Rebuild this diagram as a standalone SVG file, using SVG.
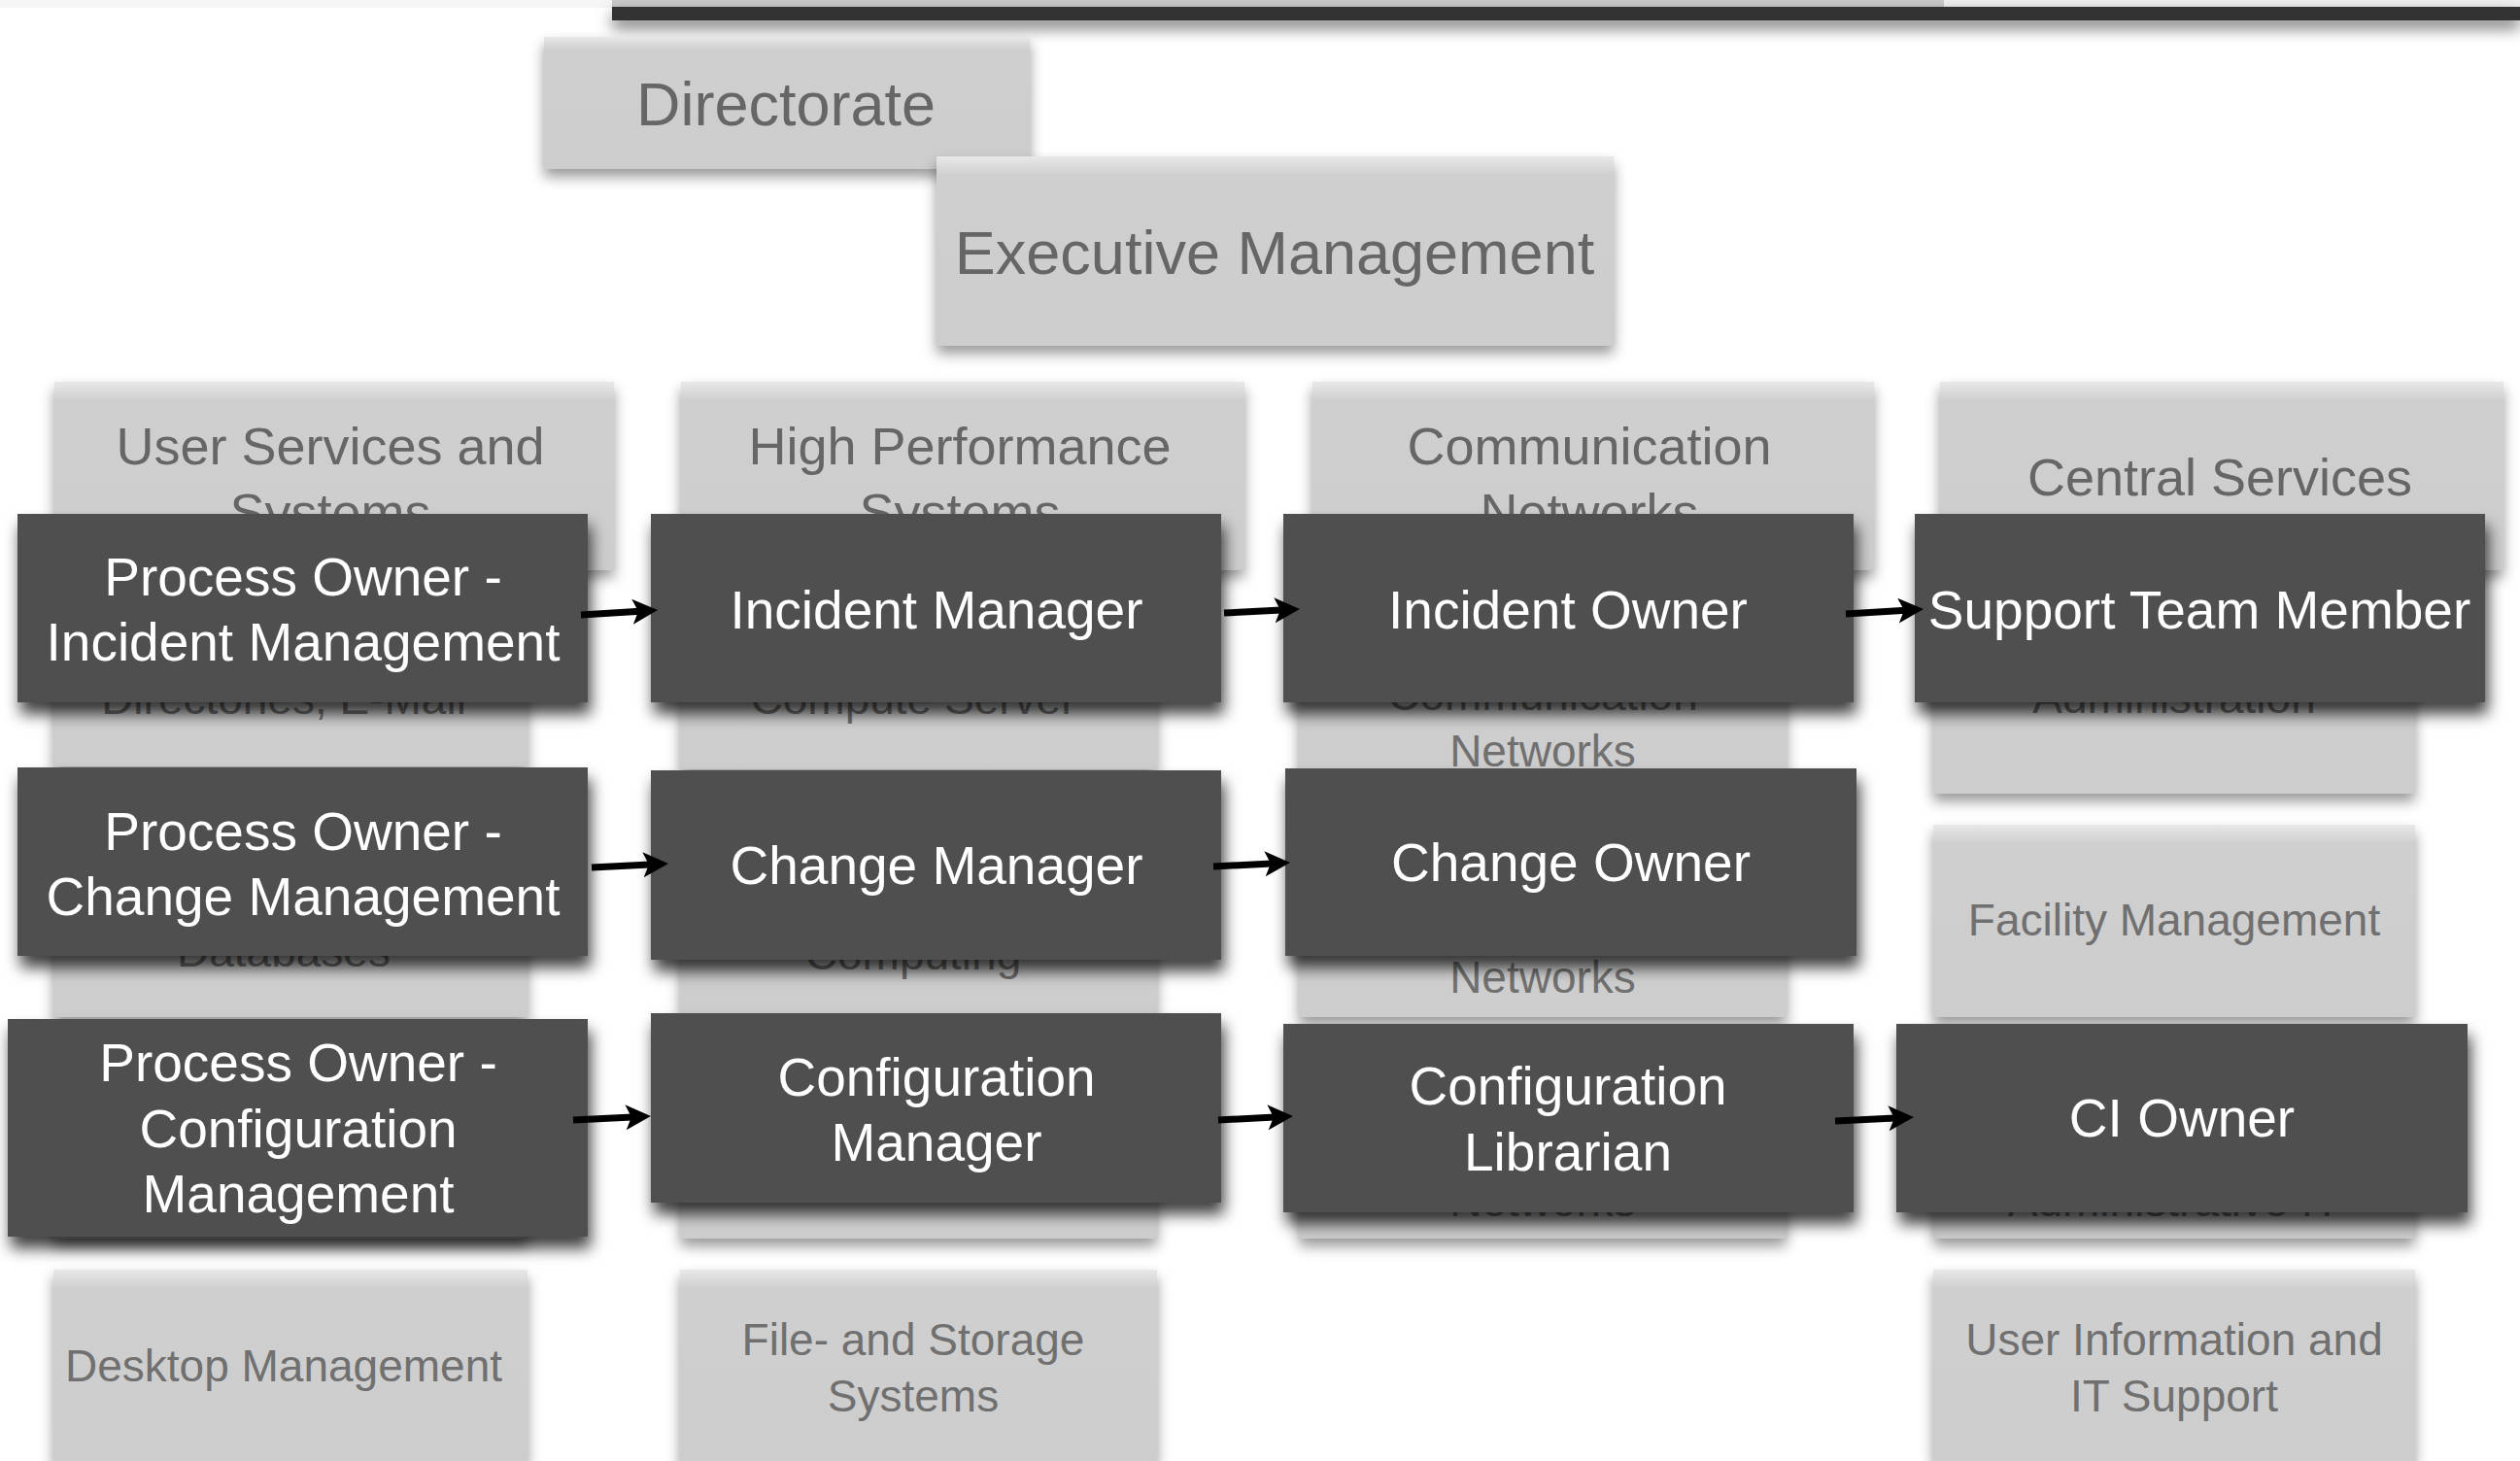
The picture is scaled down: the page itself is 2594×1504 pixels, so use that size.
<svg xmlns="http://www.w3.org/2000/svg" width="2594" height="1504" viewBox="0 0 2594 1504">
  <defs>
    <style>
      text { font-family: "Liberation Sans", Arial, Helvetica, sans-serif; text-anchor: middle; }
      .box { fill: url(#boxFill); filter: url(#shLight); }
      .dark { fill: #505050; filter: url(#shDark); }
      .t-top { font-size: 63px; fill: #666666; }
      .t-hdr { font-size: 54px; fill: #666666; }
      .t-sub { font-size: 46px; fill: #707070; }
      .t-dk { font-size: 55px; fill: #ffffff; }
      .conn { fill: none; stroke: #000000; stroke-width: 7; marker-end: url(#head); }
    </style>
    <linearGradient id="boxFill" x1="0" y1="0" x2="0" y2="1">
      <stop offset="0" stop-color="#e8e8e8"/>
      <stop offset="0.1" stop-color="#cfcfcf"/>
      <stop offset="1" stop-color="#cdcdcd"/>
    </linearGradient>
    <filter id="shLight" x="-10%" y="-15%" width="120%" height="140%">
      <feDropShadow dx="0" dy="8" stdDeviation="7" flood-color="#000" flood-opacity="0.4"/>
    </filter>
    <filter id="shDark" x="-10%" y="-15%" width="125%" height="145%">
      <feDropShadow dx="3" dy="12" stdDeviation="8" flood-color="#000" flood-opacity="0.75"/>
    </filter>
    <filter id="shBar" x="-5%" y="-100%" width="110%" height="500%">
      <feDropShadow dx="0" dy="8" stdDeviation="8" flood-color="#000" flood-opacity="0.55"/>
    </filter>
    <marker id="head" viewBox="0 0 26 26" markerWidth="26" markerHeight="26" refX="12" refY="13" orient="auto" markerUnits="userSpaceOnUse">
      <path d="M0,0 L26,13 L0,26 L6,13 Z" fill="#000"/>
    </marker>
  </defs>

  <rect width="2594" height="1504" fill="#ffffff"/>

  <!-- top strip and heavy rule -->
  <g id="top-rule">
    <rect x="0" y="0" width="630" height="8" fill="#f6f6f6"/>
    <rect x="630" y="-20" width="1371" height="27" fill="#c9c9c9"/>
    <rect x="2001" y="0" width="593" height="7" fill="#efefef"/>
    <rect x="630" y="7" width="1964" height="14" fill="#333333" filter="url(#shBar)"/>
  </g>

  <!-- column headers -->
  <g id="hdr-user-services">
    <rect class="box" x="56" y="393" width="576" height="194"/>
    <text class="t-hdr" x="340" y="478">User Services and</text>
    <text class="t-hdr" x="340" y="546">Systems</text>
  </g>
  <g id="hdr-high-performance">
    <rect class="box" x="701" y="393" width="580" height="194"/>
    <text class="t-hdr" x="988" y="478">High Performance</text>
    <text class="t-hdr" x="988" y="546">Systems</text>
  </g>
  <g id="hdr-communication">
    <rect class="box" x="1351" y="393" width="578" height="194"/>
    <text class="t-hdr" x="1636" y="478">Communication</text>
    <text class="t-hdr" x="1636" y="546">Networks</text>
  </g>
  <g id="hdr-central-services">
    <rect class="box" x="1997" y="393" width="580" height="194"/>
    <text class="t-hdr" x="2285" y="510">Central Services</text>
  </g>

  <!-- department boxes, row 1 -->
  <g id="dept-directories">
    <rect class="box" x="55" y="591" width="488" height="198"/>
    <text class="t-sub" x="292" y="735">Directories, E-Mail</text>
  </g>
  <g id="dept-compute-server">
    <rect class="box" x="700" y="594" width="491" height="198"/>
    <text class="t-sub" x="940" y="735">Compute Server</text>
  </g>
  <g id="dept-comm-networks-1">
    <rect class="box" x="1337" y="619" width="502" height="198"/>
    <text class="t-sub" x="1588" y="731">Communication</text>
    <text class="t-sub" x="1588" y="789">Networks</text>
  </g>
  <g id="dept-administration">
    <rect class="box" x="1990" y="619" width="496" height="198"/>
    <text class="t-sub" x="2238" y="734">Administration</text>
  </g>

  <!-- department boxes, row 2 -->
  <g id="dept-databases">
    <rect class="box" x="55" y="849" width="488" height="198"/>
    <text class="t-sub" x="292" y="995">Databases</text>
  </g>
  <g id="dept-computing">
    <rect class="box" x="700" y="845" width="491" height="198"/>
    <text class="t-sub" x="940" y="998">Computing</text>
  </g>
  <g id="dept-comm-networks-2">
    <rect class="box" x="1337" y="849" width="502" height="198"/>
    <text class="t-sub" x="1588" y="1022">Networks</text>
  </g>
  <g id="dept-facility">
    <rect class="box" x="1990" y="849" width="496" height="198"/>
    <text class="t-sub" x="2238" y="963">Facility Management</text>
  </g>

  <!-- department boxes, row 3 -->
  <g id="dept-user-3">
    <rect class="box" x="55" y="1077" width="488" height="198"/>
  </g>
  <g id="dept-hps-3">
    <rect class="box" x="700" y="1077" width="491" height="198"/>
  </g>
  <g id="dept-comm-networks-3">
    <rect class="box" x="1337" y="1077" width="502" height="198"/>
    <text class="t-sub" x="1588" y="1252">Networks</text>
  </g>
  <g id="dept-admin-it">
    <rect class="box" x="1990" y="1077" width="496" height="198"/>
    <text class="t-sub" x="2238" y="1252">Administrative IT</text>
  </g>

  <!-- department boxes, row 4 -->
  <g id="dept-desktop">
    <rect class="box" x="55" y="1307" width="488" height="198"/>
    <text class="t-sub" x="292" y="1422">Desktop Management</text>
  </g>
  <g id="dept-file-storage">
    <rect class="box" x="700" y="1307" width="491" height="198"/>
    <text class="t-sub" x="940" y="1395">File- and Storage</text>
    <text class="t-sub" x="940" y="1453">Systems</text>
  </g>
  <g id="dept-user-info">
    <rect class="box" x="1990" y="1307" width="496" height="198"/>
    <text class="t-sub" x="2238" y="1395">User Information and</text>
    <text class="t-sub" x="2238" y="1453">IT Support</text>
  </g>

  <!-- management boxes -->
  <g id="directorate">
    <rect class="box" x="560" y="38" width="500" height="136"/>
    <text class="t-top" x="809" y="129">Directorate</text>
  </g>
  <g id="executive-management">
    <rect class="box" x="964" y="161" width="697" height="195"/>
    <text class="t-top" x="1312" y="282">Executive Management</text>
  </g>

  <!-- role boxes: incident row -->
  <g id="po-incident">
    <rect class="dark" x="18" y="529" width="587" height="194"/>
    <text class="t-dk" x="312" y="613">Process Owner -</text>
    <text class="t-dk" x="312" y="680">Incident Management</text>
  </g>
  <g id="incident-manager">
    <rect class="dark" x="670" y="529" width="587" height="194"/>
    <text class="t-dk" x="964" y="647">Incident Manager</text>
  </g>
  <g id="incident-owner">
    <rect class="dark" x="1321" y="529" width="587" height="194"/>
    <text class="t-dk" x="1614" y="647">Incident Owner</text>
  </g>
  <g id="support-team-member">
    <rect class="dark" x="1971" y="529" width="587" height="194"/>
    <text class="t-dk" x="2264" y="647">Support Team Member</text>
  </g>

  <!-- role boxes: change row -->
  <g id="po-change">
    <rect class="dark" x="18" y="790" width="587" height="194"/>
    <text class="t-dk" x="312" y="875">Process Owner -</text>
    <text class="t-dk" x="312" y="942">Change Management</text>
  </g>
  <g id="change-manager">
    <rect class="dark" x="670" y="793" width="587" height="195"/>
    <text class="t-dk" x="964" y="910">Change Manager</text>
  </g>
  <g id="change-owner">
    <rect class="dark" x="1323" y="791" width="588" height="193"/>
    <text class="t-dk" x="1617" y="907">Change Owner</text>
  </g>

  <!-- role boxes: configuration row -->
  <g id="po-configuration">
    <rect class="dark" x="8" y="1049" width="597" height="224"/>
    <text class="t-dk" x="307" y="1113">Process Owner -</text>
    <text class="t-dk" x="307" y="1181">Configuration</text>
    <text class="t-dk" x="307" y="1248">Management</text>
  </g>
  <g id="configuration-manager">
    <rect class="dark" x="670" y="1043" width="587" height="195"/>
    <text class="t-dk" x="964" y="1128">Configuration</text>
    <text class="t-dk" x="964" y="1195">Manager</text>
  </g>
  <g id="configuration-librarian">
    <rect class="dark" x="1321" y="1054" width="587" height="194"/>
    <text class="t-dk" x="1614" y="1137">Configuration</text>
    <text class="t-dk" x="1614" y="1205">Librarian</text>
  </g>
  <g id="ci-owner">
    <rect class="dark" x="1952" y="1054" width="588" height="194"/>
    <text class="t-dk" x="2246" y="1170">CI Owner</text>
  </g>

  <!-- connectors -->
  <g id="connectors">
    <path class="conn" d="M598,633 L663,628.9"/>
    <path class="conn" d="M1260,631 L1324,627.7"/>
    <path class="conn" d="M1900,632 L1966,627.9"/>
    <path class="conn" d="M609,893 L674,889.7"/>
    <path class="conn" d="M1249,892 L1314,888.7"/>
    <path class="conn" d="M590,1153 L656,1149.7"/>
    <path class="conn" d="M1254,1153 L1317,1149.7"/>
    <path class="conn" d="M1889,1154 L1956,1150.7"/>
  </g>
</svg>
